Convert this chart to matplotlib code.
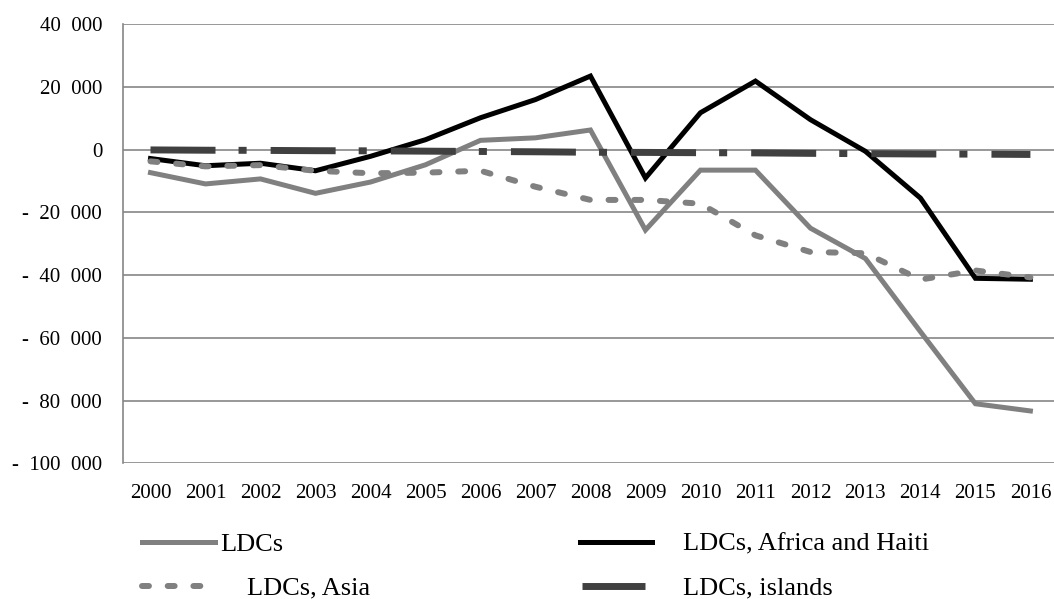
import numpy as np
import matplotlib
matplotlib.use('Agg')
import matplotlib.pyplot as plt

plt.rcParams['font.family'] = ['Liberation Serif', 'DejaVu Serif']
plt.rcParams['lines.scale_dashes'] = False

years = [str(y) for y in range(2000, 2017)]

ldcs = [-7300, -10900, -9300, -13900, -10300, -4800, 3000, 3800, 6300,
        -25600, -6500, -6500, -25000, -34700, -58000, -81000, -83300]
africa_haiti = [-2800, -5100, -4300, -6700, -2100, 3200, 10200, 16000, 23500,
                -9000, 11800, 21900, 9600, -500, -15400, -41000, -41300]
asia = [-3700, -5300, -4900, -6700, -7500, -7300, -6700, -11800, -16000,
        -16000, -17200, -27300, -32600, -33000, -41400, -38500, -40700]
islands = [-50, -150, -200, -300, -350, -450, -550, -650, -800,
           -850, -950, -1000, -1150, -1250, -1350, -1400, -1500]

yticks = [40000, 20000, 0, -20000, -40000, -60000, -80000, -100000]
sp = '  '
ytick_labels = ['40' + sp + '000', '20' + sp + '000', '0',
                '-' + sp + '20' + sp + '000', '-' + sp + '40' + sp + '000',
                '-' + sp + '60' + sp + '000', '-' + sp + '80' + sp + '000',
                '-' + sp + '100' + sp + '000']

W, H = 1054, 599
fig = plt.figure(figsize=(W / 100, H / 100), dpi=100)
ax = fig.add_axes([0.1167, 0.2265, 0.887, 0.7329])

x = np.arange(len(years))
grid_col = '#868686'

l1, = ax.plot(x, ldcs, color='#808080', lw=3.6, solid_joinstyle='miter',
              label='LDCs')
l2, = ax.plot(x, africa_haiti, color='black', lw=3.6, solid_joinstyle='miter',
              label='LDCs, Africa and Haiti')
l3, = ax.plot(x, asia, color='#808080', lw=4.3, dashes=(5, 13.5),
              dash_capstyle='round', label='LDCs, Asia')
l4, = ax.plot(x, islands, color='#404040', lw=5.0,
              dashes=(46.8, 16.6, 5.8, 17.3), dash_capstyle='butt',
              label='LDCs, islands')

ax.set_xlim(-0.5, 16.5)
ax.set_ylim(-100000, 40000)
ax.set_yticks(yticks)
ax.set_yticklabels(ytick_labels)
ax.set_xticks(x)
ax.set_xticklabels(years)
ax.tick_params(axis='both', length=0, labelsize=15)
ax.tick_params(axis='y', pad=15)
ax.tick_params(axis='x', pad=15)

ax.grid(axis='y', color=grid_col, lw=1.2)
ax.set_axisbelow(True)
for s in ['top', 'right', 'bottom']:
    ax.spines[s].set_visible(False)
ax.spines['left'].set_color(grid_col)
ax.spines['left'].set_linewidth(1.2)

# legend entries placed one by one, like the original layout
fs = 19
em = fs * 100 / 72
entries = [(l1, 142, 544, 73, 5),
           (l3, 142, 588, 70, 35),
           (l2, 580, 544, 72, 31),
           (l4, 582, 588, 63, 38)]
for h, hx, hy, hlen, gap in entries:
    fig.legend(handles=[h], loc='center left',
               bbox_to_anchor=(hx / W, 1 - hy / H), frameon=False,
               fontsize=fs, handlelength=hlen / em, handletextpad=gap / em,
               borderpad=0, borderaxespad=0)

fig.savefig('out.png', dpi=100)
